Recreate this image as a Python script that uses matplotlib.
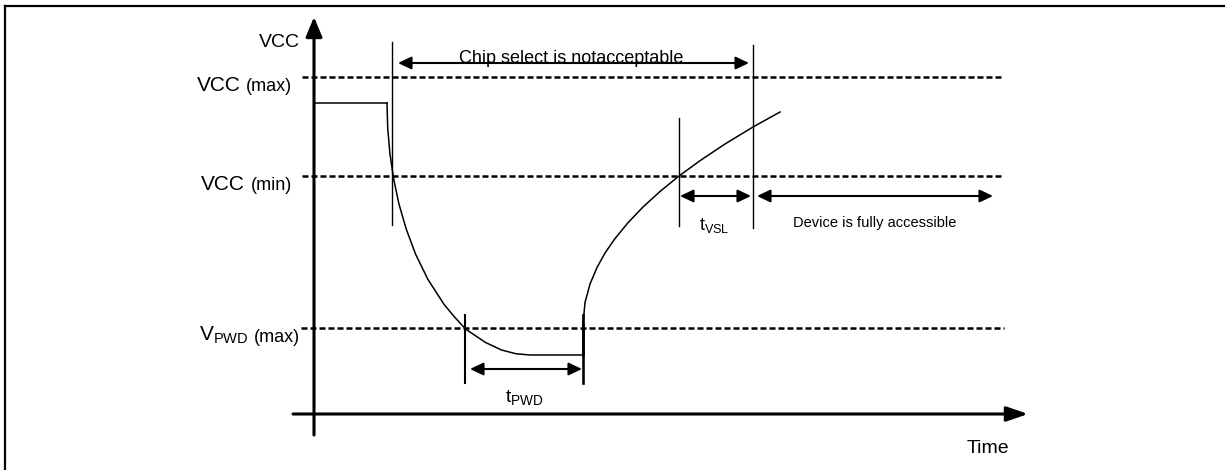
import matplotlib
matplotlib.use("Agg")
import matplotlib.pyplot as plt
from matplotlib.patches import FancyArrowPatch

plt.rcParams['font.family'] = ['Liberation Sans', 'DejaVu Sans']
plt.rcParams['mathtext.fontset'] = 'custom'
plt.rcParams['mathtext.rm'] = 'Liberation Sans'
plt.rcParams['mathtext.it'] = 'Liberation Sans'

# the diagram is laid out in pixel units (x to the right, y downwards)
# voltage thresholds (dashed lines)
level_main = ["VCC", "VCC", r"V$_{\mathrm{PWD}}$"]
level_sub = ["(max)", "(min)", "(max)"]
level_y = [77, 176, 328]
level_x0 = [302, 302, 301]
level_x1 = 1004

# VCC waveform: initial flat level, then power down
start_x = [314, 387]
start_y = [103, 103]
fall_x = [387, 387.7, 389.9, 393.6, 398.9, 406.2, 415.6, 427.9, 444.2, 454.7, 465.5,
          485.4, 501.5, 515.7, 530, 583]
fall_y = [103, 128.2, 153.4, 178.6, 203.8, 229, 254.2, 279.4, 304.6, 317.2, 329,
          342.4, 350, 353.7, 355, 355]
# power back up
rise_x = [583, 583, 585, 590, 597, 605, 615, 628, 643, 660, 679, 700, 725, 753, 780]
rise_y = [355, 324, 302.6, 284, 267.5, 253, 238.6, 222.7, 207, 191.5, 176, 160.7, 144, 127, 112]

# timing markers: x, top, bottom, width
mark_x = [392, 753, 679, 465, 583]
mark_top = [42, 45, 118, 315, 315]
mark_bot = [225, 228, 226, 383, 383]
mark_lw = [1.0, 1.0, 1.0, 1.5, 1.9]

# double arrows: x0, x1, y
span_x0 = [398, 470, 680, 757]
span_x1 = [749, 582, 751, 993]
span_y = [63, 369, 196, 196]
span_text = ["Chip select is notacceptable", r"t$_{\mathrm{PWD}}$", r"t$_{\mathrm{VSL}}$",
             "Device is fully accessible"]
text_xy = [(571, 63), (524, 402), (714, 230), (875, 227)]
text_size = [13, 14, 13, 10.5]

fig = plt.figure(figsize=(12.25, 4.70), dpi=100)
ax = fig.add_axes([0, 0, 1, 1])
ax.set_xlim(0, 1225)
ax.set_ylim(470, 0)
ax.axis('off')

# frame (top and left edges)
ax.plot([5, 1225], [6, 6], color='black', lw=1.6, solid_capstyle='projecting')
ax.plot([5, 5], [6, 470], color='black', lw=1.6, solid_capstyle='projecting')

# axes with arrows
ax.add_patch(FancyArrowPatch((314, 435), (314, 17), arrowstyle='-|>,head_length=12,head_width=5',
                             mutation_scale=1, lw=2.2, color='black', shrinkA=0, shrinkB=0))
ax.add_patch(FancyArrowPatch((293, 414), (1028, 414), arrowstyle='-|>,head_length=13,head_width=4.5',
                             mutation_scale=1, lw=2.2, color='black', shrinkA=0, shrinkB=0))
ax.text(300, 47, "VCC", fontsize=14, ha='right', va='baseline')
ax.text(988, 453, "Time", fontsize=14, ha='center', va='baseline')

# thresholds
for main, sub, y, x0 in zip(level_main, level_sub, level_y, level_x0):
    ax.plot([x0, level_x1], [y, y], color='black', lw=1.8, linestyle=(0, (2.4, 1.2)),
            dash_capstyle='butt')
    t = ax.text(292 if x0 > 301 else 300, y + 14, sub, fontsize=13, ha='right', va='baseline')
    ax.annotate(main, xy=(0, 0), xycoords=t, xytext=(-4, 0), textcoords='offset points',
                fontsize=15, ha='right', va='bottom')

# waveform
ax.plot(start_x, start_y, color='black', lw=1.1)
ax.plot(fall_x, fall_y, color='black', lw=1.1)
ax.plot(rise_x, rise_y, color='black', lw=1.1)
ax.plot(rise_x[:2], rise_y[:2], color='black', lw=1.9)

# markers
for x, y0, y1, w in zip(mark_x, mark_top, mark_bot, mark_lw):
    ax.plot([x, x], [y0, y1], color='black', lw=w)

# spans
for x0, x1, y in zip(span_x0, span_x1, span_y):
    ax.add_patch(FancyArrowPatch((x0, y), (x1, y), arrowstyle='<|-|>,head_length=8,head_width=3.8',
                                 mutation_scale=1, lw=1.5, color='black', shrinkA=0, shrinkB=0))
for s, (x, y), fs in zip(span_text, text_xy, text_size):
    ax.text(x, y, s, fontsize=fs, ha='center', va='baseline')

fig.savefig("out.png", dpi=100)
